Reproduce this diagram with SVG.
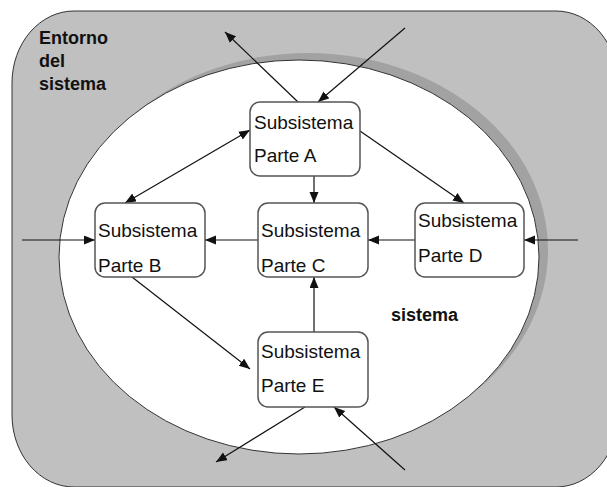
<svg xmlns="http://www.w3.org/2000/svg" width="607" height="487" viewBox="0 0 607 487">
  <style>
    .env { fill: #c0c0c0; stroke: #333; stroke-width: 1; }
    .shadow { fill: #a2a2a2; }
    .sys { fill: #ffffff; stroke: #333; stroke-width: 1; }
    .box { fill: #ffffff; stroke: #555; stroke-width: 1.5; }
    .lbl { font-family: "Liberation Sans", Arial, sans-serif; font-size: 19px; fill: #111; }
    .bold { font-family: "Liberation Sans", Arial, sans-serif; font-size: 18px; font-weight: bold; fill: #111; }
    .conn line { stroke: #111; stroke-width: 1.2; marker-end: url(#arrow); }
  </style>
  <defs>
    <marker id="arrow" markerUnits="userSpaceOnUse" markerWidth="12" markerHeight="10" refX="11" refY="4.5" orient="auto-start-reverse">
      <path d="M0,0 L11,4.5 L0,9 Z" fill="#111"/>
    </marker>
  </defs>

  <!-- environment -->
  <rect class="env" x="12" y="11" width="606" height="476" rx="62" ry="72"/>
  <text class="bold" x="39" y="44">Entorno</text>
  <text class="bold" x="39" y="67">del</text>
  <text class="bold" x="39" y="90">sistema</text>

  <!-- system boundary with shadow -->
  <ellipse class="shadow" cx="308" cy="250" rx="240" ry="197"/>
  <ellipse class="sys" cx="299" cy="257" rx="240" ry="197"/>
  <text class="bold" x="391" y="321">sistema</text>

  <!-- connectors -->
  <g id="connectors" class="conn">
    <line x1="298" y1="102" x2="225" y2="32"/>
    <line x1="405" y1="28" x2="318" y2="102"/>
    <line x1="250" y1="130" x2="125" y2="203" marker-start="url(#arrow)"/>
    <line x1="360" y1="131" x2="464" y2="203"/>
    <line x1="314" y1="176" x2="314" y2="203"/>
    <line x1="258" y1="240" x2="205" y2="240"/>
    <line x1="415" y1="240" x2="368" y2="240"/>
    <line x1="22" y1="240" x2="95" y2="240"/>
    <line x1="578" y1="240" x2="524" y2="240"/>
    <line x1="132" y1="277" x2="250" y2="369"/>
    <line x1="314" y1="332" x2="314" y2="277"/>
    <line x1="305" y1="407" x2="216" y2="462"/>
    <line x1="405" y1="470" x2="334" y2="407"/>
  </g>

  <!-- subsystems -->
  <g id="parteA">
    <rect class="box" x="250" y="102" width="110" height="74" rx="10"/>
    <text class="lbl" x="254" y="129">Subsistema</text>
    <text class="lbl" x="254" y="162">Parte A</text>
  </g>
  <g id="parteB">
    <rect class="box" x="95" y="203" width="110" height="74" rx="10"/>
    <text class="lbl" x="98" y="237">Subsistema</text>
    <text class="lbl" x="98" y="272">Parte B</text>
  </g>
  <g id="parteC">
    <rect class="box" x="258" y="203" width="110" height="74" rx="10"/>
    <text class="lbl" x="261" y="237">Subsistema</text>
    <text class="lbl" x="261" y="272">Parte C</text>
  </g>
  <g id="parteD">
    <rect class="box" x="415" y="203" width="109" height="74" rx="10"/>
    <text class="lbl" x="418" y="227">Subsistema</text>
    <text class="lbl" x="418" y="262">Parte D</text>
  </g>
  <g id="parteE">
    <rect class="box" x="258" y="332" width="110" height="75" rx="10"/>
    <text class="lbl" x="261" y="358">Subsistema</text>
    <text class="lbl" x="261" y="392">Parte E</text>
  </g>
</svg>
